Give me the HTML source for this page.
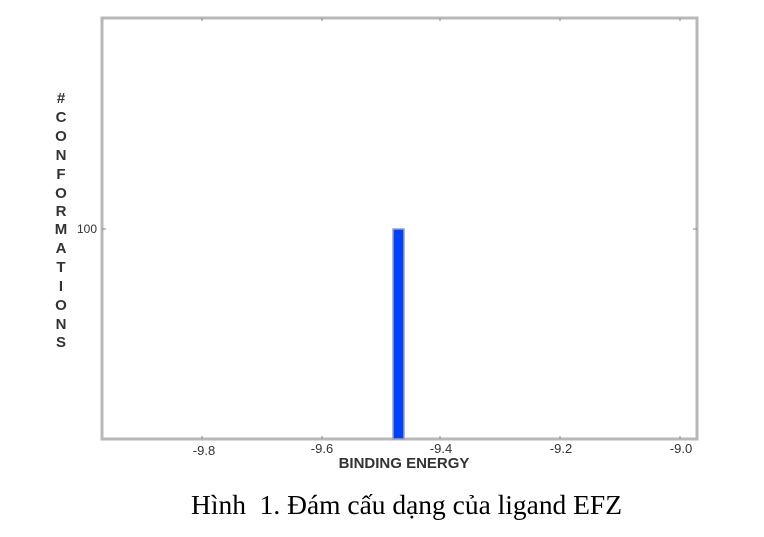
<!DOCTYPE html>
<html><head><meta charset="utf-8"><style>
body{margin:0;width:764px;height:537px;background:#fff;overflow:hidden;position:relative;font-family:"Liberation Sans",sans-serif}
</style></head><body>
<svg width="764" height="537" style="position:absolute;left:0;top:0">
<rect x="102" y="18" width="595" height="421" fill="#fff" stroke="#b8b8b8" stroke-width="3"/>
<g stroke="#888" stroke-width="1">
<line x1="202" y1="18" x2="202" y2="21"/><line x1="322" y1="18" x2="322" y2="21"/><line x1="440" y1="18" x2="440" y2="21"/><line x1="560" y1="18" x2="560" y2="21"/><line x1="680" y1="18" x2="680" y2="21"/>
<line x1="202" y1="436" x2="202" y2="439"/><line x1="322" y1="436" x2="322" y2="439"/><line x1="440" y1="436" x2="440" y2="439"/><line x1="560" y1="436" x2="560" y2="439"/><line x1="680" y1="436" x2="680" y2="439"/>
<line x1="102" y1="229" x2="106" y2="229"/><line x1="693" y1="229" x2="697" y2="229"/>
</g>
<rect x="393" y="229" width="11" height="210" fill="#0040ff" stroke="#9aa0b8" stroke-width="1.5"/>
<g font-family="Liberation Sans,sans-serif" font-size="13" fill="#333" text-anchor="middle">
<text x="204" y="455">-9.8</text><text x="322" y="453">-9.6</text><text x="441" y="453">-9.4</text><text x="561" y="453">-9.2</text><text x="681" y="453">-9.0</text>
<text x="404" y="468" font-size="15" font-weight="bold">BINDING ENERGY</text>
<text x="87" y="233" font-size="12">100</text>
</g>
<g font-family="Liberation Sans,sans-serif" font-size="15" font-weight="bold" fill="#333" text-anchor="middle">
<text x="61" y="103">#</text><text x="61" y="122">C</text><text x="61" y="141">O</text><text x="61" y="160">N</text><text x="61" y="179">F</text><text x="61" y="198">O</text><text x="61" y="216">R</text><text x="61" y="234">M</text><text x="61" y="253">A</text><text x="61" y="272">T</text><text x="61" y="291">I</text><text x="61" y="310">O</text><text x="61" y="329">N</text><text x="61" y="347">S</text>
</g>
<text x="191" y="514" font-family="Liberation Serif,serif" font-size="27" textLength="431" lengthAdjust="spacingAndGlyphs" fill="#000">Hình&#160; 1. Đám cấu dạng của ligand EFZ</text>
</svg>
</body></html>
